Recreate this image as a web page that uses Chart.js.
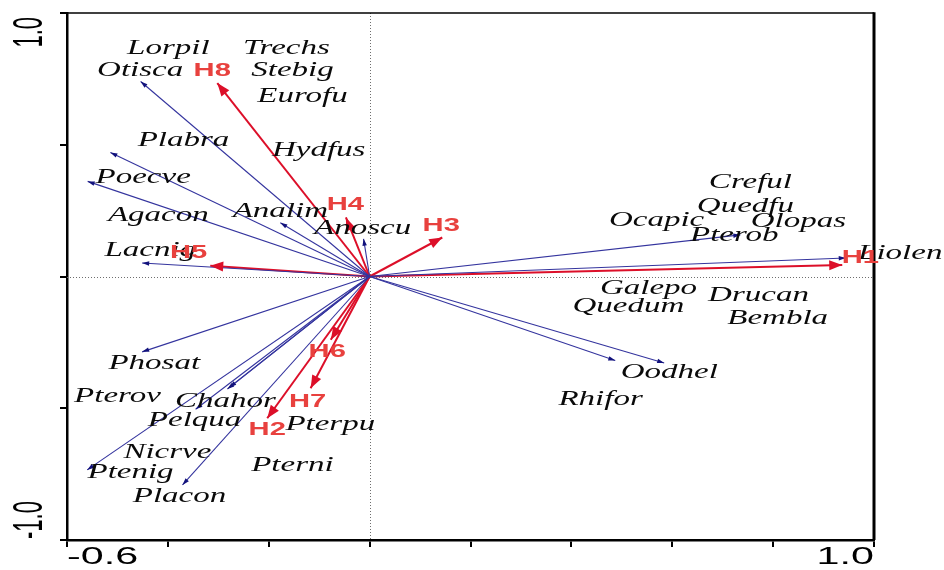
<!DOCTYPE html>
<html>
<head>
<meta charset="utf-8">
<script src="https://cdn.jsdelivr.net/npm/chart.js@4.4.1/dist/chart.umd.min.js"></script>
<style>
  html, body { margin: 0; padding: 0; background: #ffffff; }
  canvas { display: block; }
</style>
</head>
<body>
<canvas id="biplot" width="944" height="570"></canvas>
<script>
// Species vectors drawn as arrows (tip coordinates on axes 1 and 2)
const speciesArrowNames = ['Otisca', 'Plabra', 'Poecve', 'Analim', 'Anoscu', 'Lacnig',
  'Pterob', 'Liolen', 'Oodhel', 'Quedum', 'Phosat', 'Chahor', 'Nicrve', 'Pelqua', 'Ptenig', 'Placon'];
const speciesArrowX = [-0.454, -0.514, -0.559, -0.177, -0.012, -0.451,
  0.735, 0.944, 0.584, 0.487, -0.451, -0.282, -0.278, -0.345, -0.560, -0.371];
const speciesArrowY = [0.740, 0.471, 0.361, 0.204, 0.143, 0.051,
  0.158, 0.070, -0.328, -0.319, -0.286, -0.427, -0.421, -0.504, -0.734, -0.791];

// Habitat vectors
const habitatNames = ['H1', 'H2', 'H3', 'H4', 'H5', 'H6', 'H7', 'H8'];
const habitatX = [0.937, -0.203, 0.144, -0.047, -0.316, -0.077, -0.117, -0.302];
const habitatY = [0.044, -0.538, 0.148, 0.224, 0.041, -0.240, -0.424, 0.734];
const habitatLabelX = [0.973, -0.203, 0.142, -0.048, -0.359, -0.084, -0.123, -0.312];
const habitatLabelY = [0.071, -0.582, 0.193, 0.272, 0.090, -0.286, -0.476, 0.781];

// Species names and where they sit on the ordination plane
const speciesNames = ['Lorpil', 'Trechs', 'Otisca', 'Stebig', 'Eurofu', 'Plabra', 'Hydfus', 'Poecve',
  'Creful', 'Quedfu', 'Agacon', 'Analim', 'Olopas', 'Ocapic', 'Anoscu', 'Pterob', 'Lacnig', 'Liolen',
  'Galepo', 'Drucan', 'Quedum', 'Bembla', 'Phosat', 'Oodhel', 'Pterov', 'Rhifor', 'Chahor', 'Pelqua',
  'Pterpu', 'Nicrve', 'Pterni', 'Ptenig', 'Placon'];
const speciesX = [-0.399, -0.165, -0.455, -0.153, -0.133, -0.369, -0.101, -0.449,
  0.755, 0.745, -0.419, -0.177, 0.850, 0.569, -0.014, 0.723, -0.435, 1.052,
  0.553, 0.771, 0.513, 0.809, -0.427, 0.594, -0.500, 0.458, -0.286, -0.347,
  -0.078, -0.401, -0.153, -0.474, -0.377];
const speciesY = [0.868, 0.868, 0.781, 0.781, 0.686, 0.519, 0.481, 0.375,
  0.356, 0.265, 0.231, 0.246, 0.208, 0.212, 0.185, 0.158, 0.099, 0.090,
  -0.043, -0.070, -0.111, -0.157, -0.331, -0.362, -0.453, -0.464, -0.475, -0.547,
  -0.559, -0.666, -0.716, -0.742, -0.833];

// Axis ranges and the end labels printed on each axis
const xRange = [-0.6, 1.0];
const yRange = [-1.0, 1.0];
const xTickLabels = ['-0.6', '1.0'];
const yTickLabels = ['1.0', '-1.0'];

const BLUE_LINE = '#34349e';
const BLUE_HEAD = '#12127c';
const RED_LINE = '#dc0f29';
const RED_TEXT = '#e8413e';

function vectorDataset(x, y, color, width) {
  return {
    data: [{ x: 0, y: 0 }, { x: x, y: y }],
    showLine: true,
    borderColor: color,
    borderWidth: width,
    pointRadius: 0,
    pointHoverRadius: 0,
    fill: false
  };
}

const datasets = [];
speciesArrowNames.forEach((n, i) => {
  const d = vectorDataset(speciesArrowX[i], speciesArrowY[i], BLUE_LINE, 1.1);
  d.label = n;
  datasets.push(d);
});
habitatNames.forEach((n, i) => {
  const d = vectorDataset(habitatX[i], habitatY[i], RED_LINE, 2);
  d.label = n;
  datasets.push(d);
});

// Stretched text helper (wide glyphs)
function wideText(ctx, text, x, y, sx, font, color, align, rotate) {
  ctx.save();
  ctx.translate(x, y);
  ctx.scale(sx, 1);
  if (rotate) ctx.rotate(-Math.PI / 2);
  ctx.font = font;
  ctx.fillStyle = color;
  ctx.textAlign = align || 'center';
  ctx.textBaseline = 'middle';
  ctx.fillText(text, 0, 0);
  ctx.restore();
}

function arrowHead(ctx, x0, y0, x1, y1, len, wid, color) {
  const a = Math.atan2(y1 - y0, x1 - x0);
  ctx.save();
  ctx.translate(x1, y1);
  ctx.rotate(a);
  ctx.beginPath();
  ctx.moveTo(0, 0);
  ctx.lineTo(-len, wid / 2);
  ctx.lineTo(-len, -wid / 2);
  ctx.closePath();
  ctx.fillStyle = color;
  ctx.fill();
  ctx.restore();
}

const biplotDecor = {
  id: 'biplotDecor',
  beforeDatasetsDraw(chart) {
    const { ctx, chartArea: a, scales: { x, y } } = chart;
    const x0 = x.getPixelForValue(0), y0 = y.getPixelForValue(0);
    ctx.save();
    ctx.strokeStyle = '#6e6e6e';
    ctx.lineWidth = 1;
    ctx.setLineDash([1, 2]);
    ctx.beginPath();
    ctx.moveTo(Math.round(x0) + 0.5, a.top);
    ctx.lineTo(Math.round(x0) + 0.5, a.bottom);
    ctx.moveTo(a.left, Math.round(y0) + 0.5);
    ctx.lineTo(a.right, Math.round(y0) + 0.5);
    ctx.stroke();
    ctx.restore();
  },
  afterDatasetsDraw(chart) {
    const { ctx, chartArea: a, scales: { x, y } } = chart;
    const ox = x.getPixelForValue(0), oy = y.getPixelForValue(0);

    // arrow heads
    speciesArrowNames.forEach((n, i) => {
      arrowHead(ctx, ox, oy, x.getPixelForValue(speciesArrowX[i]), y.getPixelForValue(speciesArrowY[i]), 7, 4.5, BLUE_HEAD);
    });
    habitatNames.forEach((n, i) => {
      arrowHead(ctx, ox, oy, x.getPixelForValue(habitatX[i]), y.getPixelForValue(habitatY[i]), 13, 10, RED_LINE);
    });

    // frame: thin top, heavy right
    ctx.save();
    ctx.strokeStyle = '#000';
    ctx.lineWidth = 1.6;
    ctx.beginPath();
    ctx.moveTo(a.left, a.top);
    ctx.lineTo(a.right, a.top);
    ctx.stroke();
    ctx.lineWidth = 3;
    ctx.beginPath();
    ctx.moveTo(a.right, a.top - 0.8);
    ctx.lineTo(a.right, a.bottom);
    ctx.stroke();
    ctx.restore();

    // species names
    const serif = 'italic 22px "Liberation Serif", "Times New Roman", serif';
    speciesNames.forEach((n, i) => {
      wideText(ctx, n, x.getPixelForValue(speciesX[i]), y.getPixelForValue(speciesY[i]), 1.5, serif, '#0a0a0a');
    });

    // habitat names
    const bold = 'bold 18px "Liberation Sans", Arial, sans-serif';
    habitatNames.forEach((n, i) => {
      wideText(ctx, n, x.getPixelForValue(habitatLabelX[i]), y.getPixelForValue(habitatLabelY[i]), 1.62, bold, RED_TEXT);
    });

    // axis end labels
    const sans = '24px "Liberation Sans", Arial, sans-serif';
    const by = a.bottom + 17;
    wideText(ctx, xTickLabels[0], x.getPixelForValue(xRange[0]), by, 1.72, sans, '#000', 'left');
    wideText(ctx, xTickLabels[1], x.getPixelForValue(xRange[1]), by, 1.72, sans, '#000', 'right');
    const sansR = '22px "Liberation Sans", Arial, sans-serif';
    const lx = a.left - 37;
    wideText(ctx, yTickLabels[0], lx, y.getPixelForValue(yRange[1]) + 4, 1.95, sansR, '#000', 'right', true);
    wideText(ctx, yTickLabels[1], lx, y.getPixelForValue(yRange[0]) - 1, 1.95, sansR, '#000', 'left', true);
  }
};

new Chart(document.getElementById('biplot'), {
  type: 'scatter',
  data: { datasets },
  plugins: [biplotDecor],
  options: {
    responsive: false,
    animation: false,
    devicePixelRatio: 1,
    events: [],
    layout: { padding: { top: 13, right: 70, left: 0, bottom: 0 } },
    plugins: { legend: { display: false }, tooltip: { enabled: false } },
    scales: {
      x: {
        type: 'linear',
        min: xRange[0], max: xRange[1],
        ticks: { stepSize: 0.2, display: false },
        grid: { drawOnChartArea: false, drawTicks: true, tickLength: 7, color: '#000', lineWidth: 2 },
        border: { display: true, color: '#000', width: 2.5 },
        afterFit(s) { s.height = 30; }
      },
      y: {
        type: 'linear',
        min: yRange[0], max: yRange[1],
        ticks: { stepSize: 0.5, display: false },
        grid: { drawOnChartArea: false, drawTicks: true, tickLength: 7, color: '#000', lineWidth: 2 },
        border: { display: true, color: '#000', width: 2.5 },
        afterFit(s) { s.width = 67; }
      }
    }
  }
});
</script>
</body>
</html>
